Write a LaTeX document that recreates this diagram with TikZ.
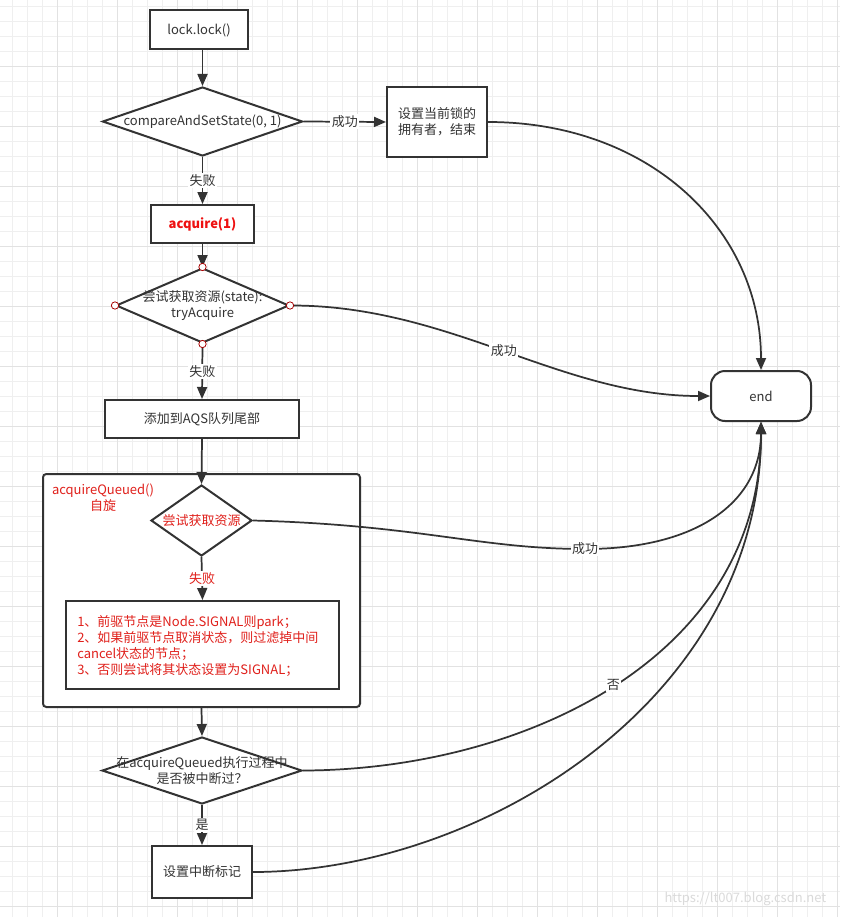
\documentclass[tikz,border=0pt]{standalone}
\usepackage{fontspec}
\setmainfont{Noto Sans CJK SC}
\usetikzlibrary{arrows.meta,shapes.geometric}
\definecolor{txt}{HTML}{333333}
\definecolor{ln}{HTML}{333333}
\definecolor{redtxt}{HTML}{E0201B}
\definecolor{boldred}{HTML}{EE1111}
\definecolor{gmin}{HTML}{EFEFEF}
\definecolor{gmaj}{HTML}{E2E2E2}
\definecolor{wmark}{HTML}{DADADA}
\newcommand\pxlen{0.75pt}
\begin{document}
\begin{tikzpicture}[x=0.75pt,y=-0.75pt,
  font=\fontsize{9.75}{12}\selectfont, text=txt,
  box/.style={draw=ln,line width=1.5pt,fill=white,rectangle,inner sep=0},
  dia/.style={draw=ln,line width=1.5pt,fill=white,diamond,inner sep=0},
  conn/.style={draw=ln,line width=1.3pt,-{Triangle[length=9pt,width=7.5pt]}},
  lbl/.style={fill=white,inner sep=1pt},
  dot/.style={circle,draw=red!65!black,fill=white,line width=0.6pt,minimum size=5.5pt,inner sep=0},
  rtext/.style={text=redtxt}
]
\useasboundingbox (0,0) rectangle (840,917);
\fill[white] (0,0) rectangle (840,917);
% grid
\foreach \x in {12.7,27.7,...,840}{\draw[gmin,line width=0.75pt] (\x,0) -- (\x,917);}
\foreach \y in {6.7,21.7,...,917}{\draw[gmin,line width=0.75pt] (0,\y) -- (840,\y);}
\foreach \x in {57.7,117.7,...,840}{\draw[gmaj,line width=0.75pt] (\x,0) -- (\x,917);}
\foreach \y in {66.7,126.7,...,917}{\draw[gmaj,line width=0.75pt] (0,\y) -- (840,\y);}

% nodes
\node[box,minimum width=98*\pxlen,minimum height=39*\pxlen] (lock) at (199,30) {lock.lock()};
\node[dia,minimum width=200*\pxlen,minimum height=69*\pxlen] (cas) at (202.5,121.5) {};
\node (castxt) at (cas.center) {compareAndSetState(0, 1)};
\node[box,minimum width=100*\pxlen,minimum height=70*\pxlen,align=center] (owner) at (437,122) {设置当前锁的\\拥有者，结束};
\node[box,minimum width=103*\pxlen,minimum height=38*\pxlen,text=boldred,font=\fontsize{9.75}{12}\selectfont\bfseries] (acq) at (202.5,224) {acquire(1)};
\node[dia,minimum width=173*\pxlen,minimum height=75*\pxlen] (try) at (202.5,305.5) {};
\node[align=center] (trytxt) at (try.center) {尝试获取资源(state):\\tryAcquire};
\node[box,minimum width=194*\pxlen,minimum height=38*\pxlen] (aqs) at (202,419) {添加到AQS队列尾部};
\node[box,rounded corners=2.5pt,minimum width=317*\pxlen,minimum height=233*\pxlen] (group) at (201.5,590.5) {};
\node[rtext,align=center] (grouptxt) at (103,497.5) {acquireQueued()\\自旋};
\node[dia,minimum width=101*\pxlen,minimum height=71*\pxlen] (dm2) at (201.5,520.5) {};
\node[rtext] (dm2txt) at (dm2.center) {尝试获取资源};
\node[box,minimum width=273*\pxlen,minimum height=88*\pxlen] (steps) at (202.5,645) {};
\node[rtext,align=left,anchor=west,inner sep=0] (stepstxt) at (77,646)
  {1、前驱节点是Node.SIGNAL则park；\\2、如果前驱节点取消状态，则过滤掉中间\\cancel状态的节点；\\3、否则尝试将其状态设置为SIGNAL；};
\node[dia,minimum width=200*\pxlen,minimum height=67*\pxlen] (dm3) at (202,770.5) {};
\node[align=center] (dm3txt) at (dm3.center) {在acquireQueued执行过程中\\是否被中断过？};
\node[box,minimum width=100*\pxlen,minimum height=52*\pxlen] (mark) at (202,872) {设置中断标记};
\node[box,rounded corners=10.5pt,minimum width=100*\pxlen,minimum height=50*\pxlen] (end) at (761,396) {end};
\node[text=wmark,anchor=east] (wm) at (831,899) {https://lt007.blog.csdn.net};

% connectors
\draw[conn] (lock.south -| cas.north) -- (cas.north);
\draw[conn] (cas.east) -- node[lbl]{成功} (owner.west);
\draw[conn] (owner.east) .. controls (650,122) and (761,230) .. (end.north);
\draw[conn] (cas.south) -- node[lbl]{失败} (acq.north);
\draw[conn] (acq.south) -- (try.north);
\draw[conn] (try.east) .. controls (450,305) and (560,396) .. node[lbl,pos=0.5]{成功} (end.west);
\draw[conn] (try.south) -- node[lbl]{失败} (aqs.north);
\draw[conn] (aqs.south) -- (dm2.north);
\draw[conn] (dm2.east) .. controls (420,525) and (480,549) .. (585,549) node[lbl]{成功}
   .. controls (700,549) and (761,500) .. (end.south);
\draw[conn] (dm2.south) -- node[lbl,rtext]{失败} (steps.north);
\draw[conn] (group.south) -- (dm3.north);
\draw[conn] (dm3.east) .. controls (520,770) and (761,660) .. node[lbl,pos=0.5]{否} (end.south);
\draw[conn] (dm3.south) -- node[lbl]{是} (mark.north);
\draw[conn] (mark.east) .. controls (480,872) and (761,700) .. (end.south);

% connection point markers
\foreach \a in {north,south,east,west}{\node[dot] (try-\a) at (try.\a) {};}
\end{tikzpicture}
\end{document}
